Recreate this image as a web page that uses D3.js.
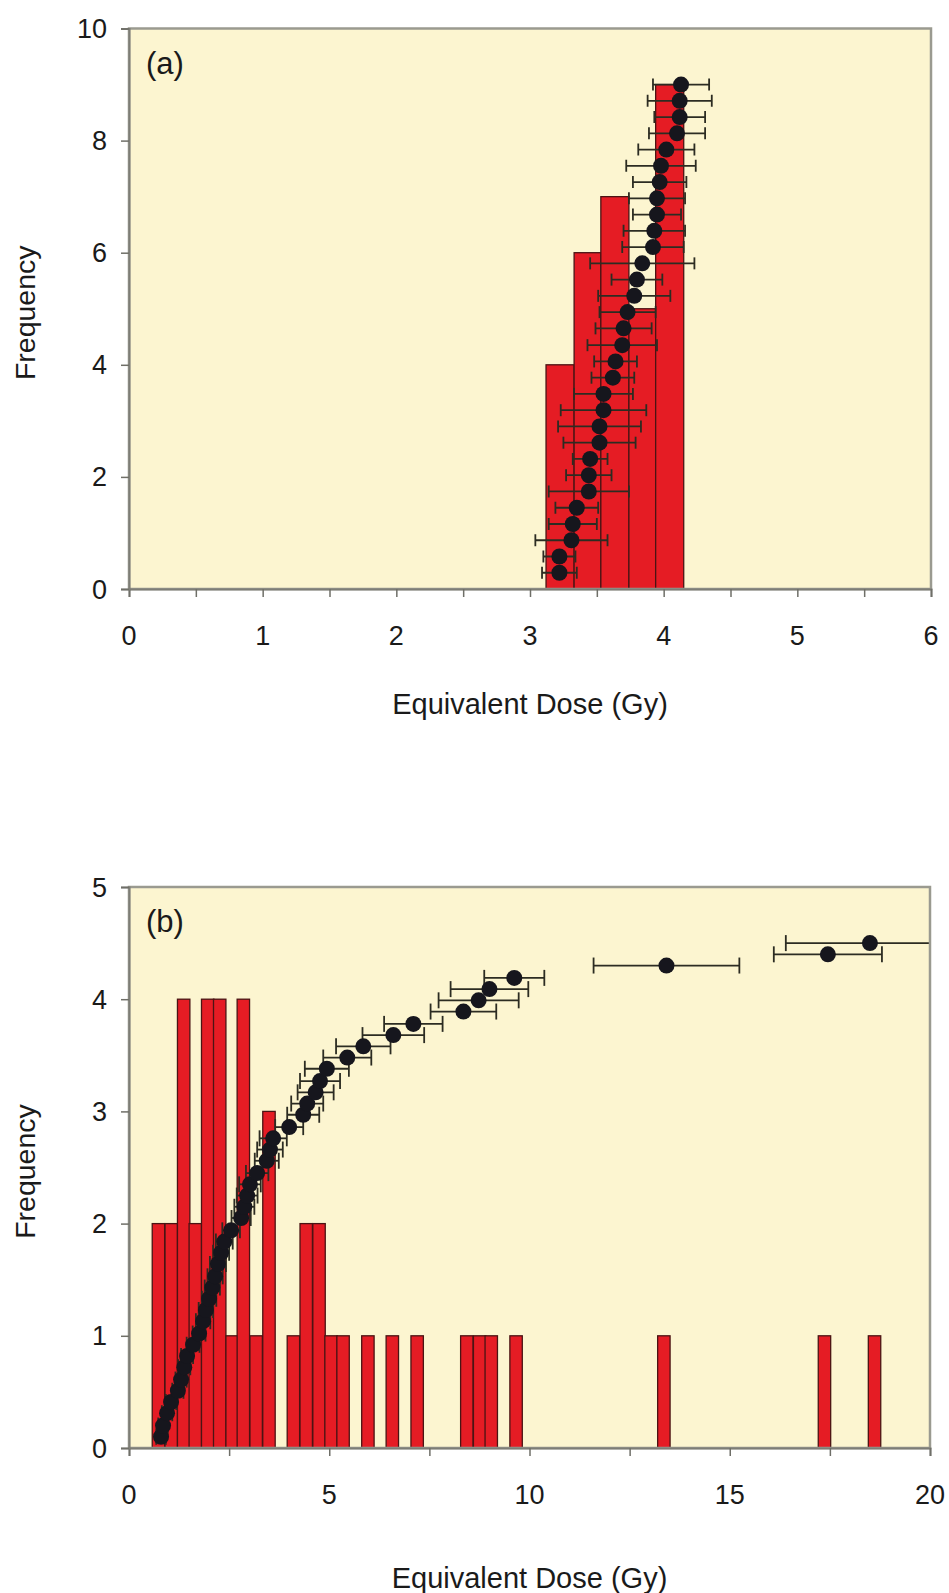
<!DOCTYPE html>
<html><head><meta charset="utf-8">
<script src="https://cdn.jsdelivr.net/npm/d3@7"></script>
<style>
html,body{margin:0;padding:0;background:#fff;}
svg{display:block;}
text{font-family:"Liberation Sans",Arial,sans-serif;fill:#1a1a1a;}
</style></head><body>
<svg id="chart" width="949" height="1593"></svg>
<script>
// ---------- Panel (a) data ----------
const aBinStart = [3.12, 3.33, 3.53, 3.74, 3.94];
const aBinEnd   = [3.33, 3.53, 3.74, 3.94, 4.15];
const aBinCount = [4, 6, 7, 5, 9];
const aDose = [3.22, 3.22, 3.31, 3.32, 3.35, 3.44, 3.44, 3.45, 3.52, 3.52,
               3.55, 3.55, 3.62, 3.64, 3.69, 3.70, 3.73, 3.78, 3.80, 3.84,
               3.92, 3.93, 3.95, 3.95, 3.97, 3.98, 4.02, 4.10, 4.12, 4.12, 4.13];
const aRank = [0.29, 0.58, 0.87, 1.16, 1.45, 1.74, 2.03, 2.32, 2.61, 2.90,
               3.19, 3.48, 3.77, 4.06, 4.35, 4.65, 4.94, 5.23, 5.52, 5.81,
               6.10, 6.39, 6.68, 6.97, 7.26, 7.55, 7.84, 8.13, 8.42, 8.71, 9.00];
const aErr = [0.13, 0.12, 0.27, 0.18, 0.16, 0.30, 0.17, 0.13, 0.27, 0.31,
              0.32, 0.22, 0.16, 0.16, 0.26, 0.21, 0.21, 0.27, 0.19, 0.39,
              0.23, 0.23, 0.18, 0.21, 0.20, 0.26, 0.21, 0.21, 0.19, 0.24, 0.21];
const aXTicks = [0, 0.5, 1, 1.5, 2, 2.5, 3, 3.5, 4, 4.5, 5, 5.5, 6];
const aXLabels = [0, 1, 2, 3, 4, 5, 6];
const aYTicks = [0, 2, 4, 6, 8, 10];

// ---------- Panel (b) data ----------
const bBinStart = [0.58, 0.90, 1.21, 1.50, 1.81, 2.11, 2.42, 2.70, 3.02, 3.34,
                   3.95, 4.27, 4.59, 4.89, 5.19, 5.81, 6.42, 7.04, 8.28, 8.60,
                   8.89, 9.51, 13.20, 17.21, 18.46];
const bBinWidth = 0.31;
const bBinCount = [2, 2, 4, 2, 4, 4, 1, 4, 1, 3,
                   1, 2, 2, 1, 1, 1, 1, 1, 1, 1,
                   1, 1, 1, 1, 1];
const bDose = [0.80, 0.85, 0.95, 1.05, 1.22, 1.30, 1.38, 1.45, 1.60, 1.75,
               1.85, 1.92, 2.00, 2.08, 2.15, 2.22, 2.30, 2.38, 2.55, 2.80,
               2.88, 2.95, 3.02, 3.20, 3.44, 3.52, 3.60, 4.00, 4.35, 4.45,
               4.66, 4.77, 4.94, 5.45, 5.85, 6.60, 7.10, 8.35, 8.73, 9.00,
               9.62, 13.42, 17.45, 18.50];
const bRank = [0.10, 0.20, 0.31, 0.41, 0.51, 0.61, 0.72, 0.82, 0.92, 1.02,
               1.13, 1.23, 1.33, 1.43, 1.53, 1.64, 1.74, 1.84, 1.94, 2.05,
               2.15, 2.25, 2.35, 2.45, 2.56, 2.66, 2.76, 2.86, 2.97, 3.07,
               3.17, 3.27, 3.38, 3.48, 3.58, 3.68, 3.78, 3.89, 3.99, 4.09,
               4.19, 4.30, 4.40, 4.50];
const bErr = [0.12, 0.12, 0.13, 0.13, 0.14, 0.14, 0.15, 0.15, 0.16, 0.16,
              0.18, 0.18, 0.18, 0.19, 0.19, 0.20, 0.20, 0.21, 0.22, 0.24,
              0.25, 0.26, 0.27, 0.28, 0.30, 0.32, 0.34, 0.35, 0.40, 0.40,
              0.45, 0.50, 0.55, 0.60, 0.68, 0.77, 0.73, 0.82, 1.00, 0.97,
              0.75, 1.82, 1.35, 2.10];
const bXTicks = [0, 2.5, 5, 7.5, 10, 12.5, 15, 17.5, 20];
const bXLabels = [0, 5, 10, 15, 20];
const bYTicks = [0, 1, 2, 3, 4, 5];

const svg = d3.select("#chart");

function drawPanel(cfg) {
  const x = d3.scaleLinear().domain(cfg.xDomain).range([cfg.left, cfg.right]);
  const y = d3.scaleLinear().domain(cfg.yDomain).range([cfg.bottom, cfg.top]);
  const g = svg.append("g");
  const clipId = "clip-" + cfg.id;
  g.append("clipPath").attr("id", clipId).append("rect")
    .attr("x", cfg.left).attr("y", cfg.top)
    .attr("width", cfg.right - cfg.left).attr("height", cfg.bottom - cfg.top);

  g.append("rect").attr("x", cfg.left).attr("y", cfg.top)
    .attr("width", cfg.right - cfg.left).attr("height", cfg.bottom - cfg.top)
    .attr("fill", "#fcf5d0");

  const inner = g.append("g").attr("clip-path", `url(#${clipId})`);
  inner.selectAll("rect.bar").data(cfg.binStart).join("rect")
    .attr("class", "bar")
    .attr("x", (d) => x(d))
    .attr("width", (d, i) => x(cfg.binEnd(i)) - x(d))
    .attr("y", (d, i) => y(cfg.binCount[i]))
    .attr("height", (d, i) => y(0) - y(cfg.binCount[i]))
    .attr("fill", "#e51c24")
    .attr("stroke", "#4a1414")
    .attr("stroke-width", 1.3);

  const pts = cfg.dose.map((d, i) => ({ x: d, y: cfg.rank[i], e: cfg.err[i] }));
  const eb = inner.append("g").attr("stroke", "#2c2c22").attr("stroke-width", 1.8).attr("fill", "none");
  pts.forEach((p) => {
    const yy = y(p.y);
    eb.append("line").attr("x1", x(p.x - p.e)).attr("x2", x(p.x + p.e)).attr("y1", yy).attr("y2", yy);
    eb.append("line").attr("x1", x(p.x - p.e)).attr("x2", x(p.x - p.e)).attr("y1", yy - cfg.cap).attr("y2", yy + cfg.cap);
    eb.append("line").attr("x1", x(p.x + p.e)).attr("x2", x(p.x + p.e)).attr("y1", yy - cfg.cap).attr("y2", yy + cfg.cap);
  });
  inner.selectAll("circle").data(pts).join("circle")
    .attr("cx", (p) => x(p.x)).attr("cy", (p) => y(p.y))
    .attr("r", 8).attr("fill", "#16161d");

  g.append("rect").attr("x", cfg.left).attr("y", cfg.top)
    .attr("width", cfg.right - cfg.left).attr("height", cfg.bottom - cfg.top)
    .attr("fill", "none").attr("stroke", "#9a9a90").attr("stroke-width", 2.5);

  const xa = g.append("g").attr("transform", `translate(0,${cfg.bottom})`)
    .call(d3.axisBottom(x).tickValues(cfg.xTicks).tickSize(8).tickFormat(""));
  xa.select(".domain").attr("stroke", "#7d7d76").attr("stroke-width", 2);
  xa.selectAll(".tick line").attr("stroke", "#6f6f68").attr("stroke-width", 1.5);
  const ya = g.append("g").attr("transform", `translate(${cfg.left},0)`)
    .call(d3.axisLeft(y).tickValues(cfg.yTicks).tickSize(8).tickFormat(""));
  ya.select(".domain").attr("stroke", "#7d7d76").attr("stroke-width", 2);
  ya.selectAll(".tick line").attr("stroke", "#6f6f68").attr("stroke-width", 1.5);

  g.selectAll("text.xl").data(cfg.xLabels).join("text").attr("class", "xl")
    .attr("x", (d) => x(d)).attr("y", cfg.bottom + 56)
    .attr("text-anchor", "middle").attr("font-size", 27).text((d) => d);
  g.selectAll("text.yl").data(cfg.yTicks).join("text").attr("class", "yl")
    .attr("x", cfg.left - 22).attr("y", (d) => y(d) + 9.5)
    .attr("text-anchor", "end").attr("font-size", 27).text((d) => d);

  g.append("text").attr("x", (cfg.left + cfg.right) / 2).attr("y", cfg.xTitleY)
    .attr("text-anchor", "middle").attr("font-size", 29).text("Equivalent Dose (Gy)");
  g.append("text")
    .attr("transform", `translate(35,${(cfg.top + cfg.bottom) / 2 + 4}) rotate(-90)`)
    .attr("text-anchor", "middle").attr("font-size", 28.5).text("Frequency");
  g.append("text").attr("x", cfg.left + 17).attr("y", cfg.top + 45)
    .attr("font-family", "Lato, 'Open Sans', sans-serif").attr("font-weight", 300)
    .attr("font-size", 31).attr("fill", "#2a2a2a").text(cfg.label);
}

drawPanel({
  id: "a", left: 129, right: 931, top: 28.5, bottom: 589,
  xDomain: [0, 6], yDomain: [0, 10],
  binStart: aBinStart, binEnd: (i) => aBinEnd[i], binCount: aBinCount,
  dose: aDose, rank: aRank, err: aErr, cap: 6,
  xTicks: aXTicks, xLabels: aXLabels, yTicks: aYTicks,
  xTitleY: 714, label: "(a)"
});

drawPanel({
  id: "b", left: 129, right: 930, top: 887, bottom: 1448,
  xDomain: [0, 20], yDomain: [0, 5],
  binStart: bBinStart, binEnd: (i) => bBinStart[i] + bBinWidth, binCount: bBinCount,
  dose: bDose, rank: bRank, err: bErr, cap: 8,
  xTicks: bXTicks, xLabels: bXLabels, yTicks: bYTicks,
  xTitleY: 1588, label: "(b)"
});
</script>
</body></html>
